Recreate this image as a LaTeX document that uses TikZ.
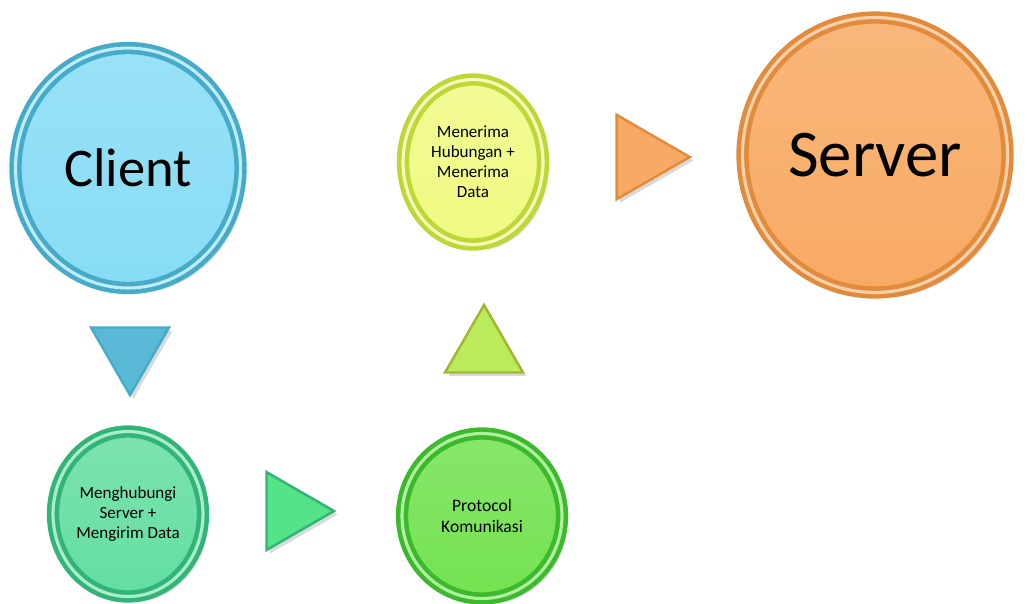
\documentclass[tikz,border=0pt]{standalone}
\usepackage{fontspec}
\setmainfont{Carlito}
\usepackage{tikz}
\definecolor{clientface}{RGB}{135,220,245}
\definecolor{clientrim}{RGB}{70,170,200}
\definecolor{mintface}{RGB}{100,222,160}
\definecolor{mintrim}{RGB}{50,180,120}
\definecolor{greenface}{RGB}{115,226,80}
\definecolor{greenrim}{RGB}{60,185,45}
\definecolor{limeface}{RGB}{240,250,130}
\definecolor{limerim}{RGB}{190,215,55}
\definecolor{limetri}{RGB}{185,235,90}
\definecolor{orangeface}{RGB}{248,170,100}
\definecolor{orangerim}{RGB}{225,140,60}
\definecolor{bluetri}{RGB}{90,185,215}
\usetikzlibrary{shapes.geometric, shadows}

\begin{document}
\begin{tikzpicture}[
    x=0.02cm, y=-0.02cm,
    bubble/.style 2 args={ellipse, draw=#2, line width=2.6pt, double=#1!55!white,
                 double distance=1.8pt, top color=#1!85!white, bottom color=#1,
                 inner sep=0pt, align=center, text=black,
                 drop shadow={opacity=0.35, shadow xshift=3pt, shadow yshift=-3pt}},
    pointer/.style 2 args={regular polygon, regular polygon sides=3, fill=#1,
                 draw=#2, line width=1.4pt, inner sep=0pt, minimum size=1.8cm,
                 drop shadow={opacity=0.3, shadow xshift=2pt, shadow yshift=-2pt}},
    small/.style={font=\fontsize{9.7}{11.4}\selectfont}
]
    \useasboundingbox (0,0) rectangle (1027,603);

    \node[bubble={clientface}{clientrim}, minimum width=4.5cm, minimum height=4.8cm,
          font=\fontsize{31}{37}\selectfont] (client) at (128,168) {Client};

    \node[bubble={mintface}{mintrim}, minimum width=3.0cm, minimum height=3.3cm, small]
        (hub) at (128,514) {Menghubungi\\Server +\\Mengirim Data};

    \node[bubble={greenface}{greenrim}, minimum width=3.2cm, minimum height=3.3cm,
          font=\fontsize{10}{11.6}\selectfont] (proto) at (482,516) {Protocol\\Komunikasi};

    \node[bubble={limeface}{limerim}, minimum width=2.8cm, minimum height=3.3cm, small]
        (recv) at (473,162) {Menerima\\Hubungan +\\Menerima\\Data};

    \node[bubble={orangeface}{orangerim}, minimum width=5.3cm, minimum height=5.5cm,
          font=\fontsize{38}{45}\selectfont] (server) at (875,155) {Server};

    % Arrows
    \node[pointer={bluetri}{clientrim}, shape border rotate=180] (a1) at (130,350) {};
    \node[pointer={mintface!85!green}{mintrim}, shape border rotate=-90] (a2) at (289,511) {};
    \node[pointer={limetri}{limerim!85!black}] (a3) at (484,350) {};
    \node[pointer={orangeface}{orangerim}, shape border rotate=-90, minimum size=1.95cm] (a4) at (641,157) {};
\end{tikzpicture}
\end{document}
